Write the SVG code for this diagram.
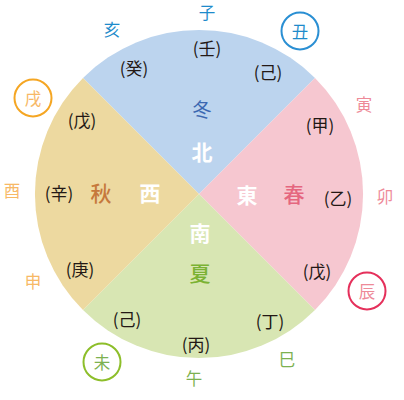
<svg xmlns="http://www.w3.org/2000/svg" width="404" height="400" viewBox="0 0 404 400">
<style>
text{font-family:"Noto Sans CJK JP","Noto Sans CJK SC",sans-serif;text-anchor:middle;dominant-baseline:central}
.p{font-size:17px;fill:#231815}
.o{font-size:16.5px}
.big{font-size:21px;font-weight:bold;fill:#ffffff}
.sea{font-size:21px;font-weight:500}
.ring{fill:#ffffff;stroke-width:2}
</style>
<rect width="404" height="400" fill="#ffffff"/>
<g id="quadrants">
<path id="north" d="M199 194 L83 78 A164 164 0 0 1 315 78 Z" fill="#BCD4EE"/>
<path id="east" d="M199 194 L315 78 A164 164 0 0 1 315 310 Z" fill="#F6C7D0"/>
<path id="south" d="M199 194 L315 310 A164 164 0 0 1 83 310 Z" fill="#D8E6B3"/>
<path id="west" d="M199 194 L83 310 A164 164 0 0 1 83 78 Z" fill="#EDD9A0"/>
</g>
<g id="inner-labels">
<text class="p" x="207" y="47">(壬)</text>
<text class="p" x="134" y="67">(癸)</text>
<text class="p" x="268" y="71">(己)</text>
<text class="p" x="320" y="124">(甲)</text>
<text class="p" x="338" y="197">(乙)</text>
<text class="p" x="317" y="270">(戊)</text>
<text class="p" x="270" y="320">(丁)</text>
<text class="p" x="196" y="343">(丙)</text>
<text class="p" x="127" y="318">(己)</text>
<text class="p" x="80" y="268">(庚)</text>
<text class="p" x="59" y="192">(辛)</text>
<text class="p" x="82" y="119">(戊)</text>
</g>
<g id="seasons">
<text class="sea" x="202" y="108" fill="#3A67B1" style="font-weight:normal;font-size:19px">冬</text>
<text class="big" x="202" y="151">北</text>
<text class="big" x="247" y="194">東</text>
<text class="sea" x="294" y="193" fill="#E5667F">春</text>
<text class="big" x="200" y="232">南</text>
<text class="sea" x="200" y="272" fill="#7BB233">夏</text>
<text class="big" x="150" y="192">西</text>
<text class="sea" x="101" y="192" fill="#C6783C">秋</text>
</g>
<g id="outer-labels">
<text class="o" x="207" y="12" fill="#1E8BCB">子</text>
<text class="o" x="112" y="29" fill="#1E8BCB">亥</text>
<g id="chou"><circle class="ring" cx="300" cy="31" r="18.5" stroke="#2A8FD3"/><text class="o" x="300" y="31" fill="#1E8BCB">丑</text></g>
<text class="o" x="364" y="104" fill="#EE8A98">寅</text>
<text class="o" x="385" y="196" fill="#EE8A98">卯</text>
<g id="chen"><circle class="ring" cx="367" cy="291" r="18.5" stroke="#E5305B"/><text class="o" x="367" y="291" fill="#EE8A98">辰</text></g>
<text class="o" x="287" y="359" fill="#7DB150">巳</text>
<text class="o" x="194" y="378" fill="#7DB150">午</text>
<g id="wei"><circle class="ring" cx="102" cy="362" r="18.5" stroke="#8DBE2A"/><text class="o" x="102" y="362" fill="#7DB150">未</text></g>
<text class="o" x="33" y="281" fill="#F7B866">申</text>
<text class="o" x="12" y="190" fill="#F7B866">酉</text>
<g id="xu"><circle class="ring" cx="33" cy="98" r="18.5" stroke="#F5A623"/><text class="o" x="33" y="98" fill="#F7B866">戌</text></g>
</g>
</svg>
